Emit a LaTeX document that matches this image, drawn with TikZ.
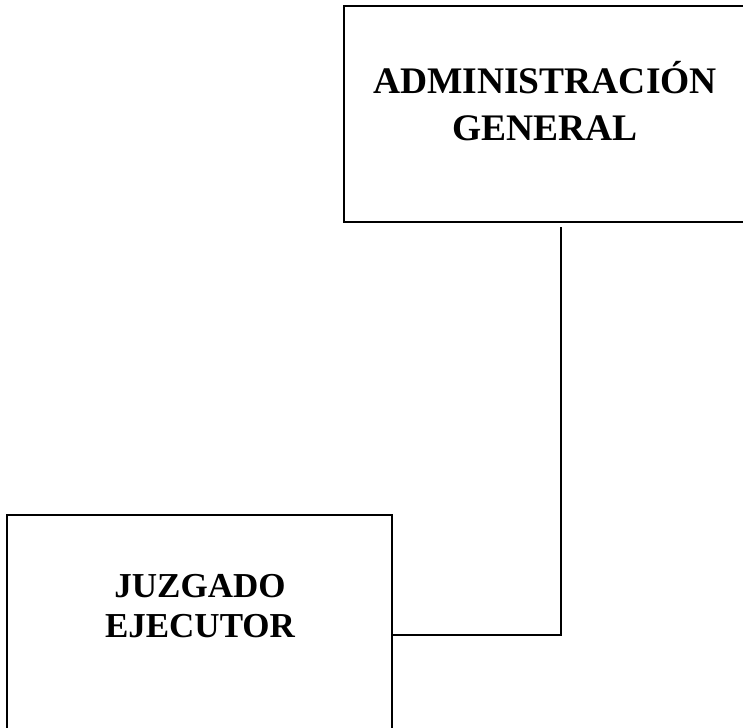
\documentclass[tikz,border=0pt]{standalone}
\usepackage{fontspec}
\setmainfont{Liberation Serif}
\tikzset{
  orgbox/.style={draw=black, line width=1.7pt, fill=none, inner sep=0pt},
  orglabel/.style={align=center, inner sep=0pt, anchor=base},
  biglabel/.style={orglabel, font=\fontsize{37.5}{47}\selectfont\bfseries},
  smalllabel/.style={orglabel, font=\fontsize{35}{40}\selectfont\bfseries},
  link/.style={draw=black, line width=1.7pt}
}
\begin{document}
\begin{tikzpicture}[x=1pt,y=-1pt]
\useasboundingbox (0,0) rectangle (743,727);
\clip (0,0) rectangle (743,727);
\fill[white] (0,0) rectangle (743,727);
% boxes
\node[orgbox, minimum width=404pt, minimum height=216pt] (admin) at (546,114) {};
\node[orgbox, minimum width=385pt, minimum height=240pt] (juzgado) at (199.5,635) {};
% labels (anchor base = baseline of last line)
\node[biglabel] (admintext) at (545,141) {ADMINISTRACIÓN\\GENERAL};
\node[smalllabel] (juztext) at (200,637) {JUZGADO\\EJECUTOR};
% connector
\coordinate (v1) at (561,227);
\coordinate (v2) at (561,635);
\draw[link] (v1) -- (v2) -- (juzgado.east |- v2);
\end{tikzpicture}
\end{document}
